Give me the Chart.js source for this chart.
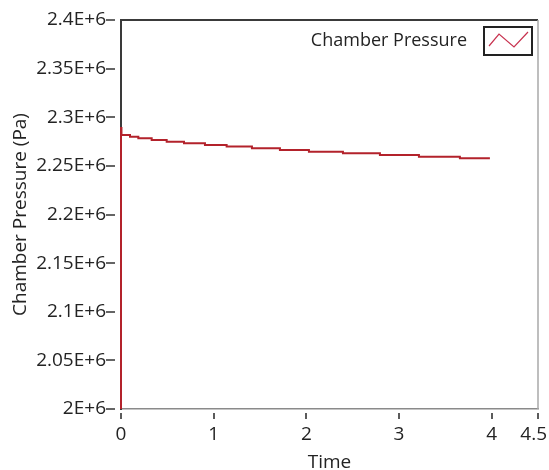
<!DOCTYPE html>
<html>
<head>
<meta charset="utf-8">
<script src="https://cdn.jsdelivr.net/npm/chart.js@4/dist/chart.umd.min.js"></script>
<style>
  html, body { margin: 0; padding: 0; background: #ffffff; }
  #wrap { width: 549px; height: 470px; }
</style>
</head>
<body>
<div id="wrap"><canvas id="c" width="549" height="470"></canvas></div>
<script>
// ---- data ----
const seriesLabel = 'Chamber Pressure';
const xTitle = 'Time';
const yTitle = 'Chamber Pressure (Pa)';

const timeValues = [0, 0, 0.005, 0.097, 0.187, 0.331, 0.493, 0.680, 0.906, 1.140, 1.413, 1.715, 2.028, 2.395, 2.794, 3.215, 3.657, 3.981];
const pressureValues = [2.0e6, 2.2890e6, 2.2817e6, 2.2800e6, 2.2784e6, 2.2766e6, 2.2749e6, 2.2732e6, 2.2715e6, 2.2700e6, 2.2681e6, 2.2663e6, 2.2646e6, 2.2629e6, 2.2612e6, 2.2594e6, 2.2578e6, 2.2578e6];

const xTickValues = [0, 1, 2, 3, 4, 4.5];
const xTickLabels = ['0', '1', '2', '3', '4', '4.5'];
const yTickValues = [2.0e6, 2.05e6, 2.1e6, 2.15e6, 2.2e6, 2.25e6, 2.3e6, 2.35e6, 2.4e6];
const yTickLabels = ['2E+6', '2.05E+6', '2.1E+6', '2.15E+6', '2.2E+6', '2.25E+6', '2.3E+6', '2.35E+6', '2.4E+6'];

// ---- styling ----
const FONT = '"Open Sans", "DejaVu Sans", sans-serif';
const TEXT = '#232323';
const LINE = '#b3222b';

Chart.defaults.font.family = FONT;
Chart.defaults.font.size = 19;
Chart.defaults.color = TEXT;

const points = timeValues.map((t, i) => ({ x: t, y: pressureValues[i] }));

// top / right frame of the plot area
const framePlugin = {
  id: 'frame',
  beforeDatasetsDraw(chart) {
    const { ctx, chartArea: a } = chart;
    ctx.save();
    ctx.strokeStyle = '#3a3a3a';
    ctx.lineWidth = 2;
    ctx.beginPath();
    ctx.moveTo(a.left - 1, a.top);
    ctx.lineTo(a.right, a.top);
    ctx.stroke();
    ctx.strokeStyle = '#a8a8a8';
    ctx.lineWidth = 1.5;
    ctx.beginPath();
    ctx.moveTo(a.right, a.top);
    ctx.lineTo(a.right, a.bottom);
    ctx.stroke();
    ctx.restore();
  }
};

// tick marks set slightly apart from the axes (positions from the library's scales)
const tickMarkPlugin = {
  id: 'tickMarks',
  afterDraw(chart) {
    const { ctx, chartArea: a, scales } = chart;
    ctx.save();
    ctx.strokeStyle = '#333333';
    ctx.lineWidth = 1.6;
    ctx.beginPath();
    scales.y.ticks.forEach(t => {
      const py = Math.round(scales.y.getPixelForValue(t.value));
      ctx.moveTo(a.left - 15, py);
      ctx.lineTo(a.left - 6, py);
    });
    scales.x.ticks.forEach(t => {
      const px = Math.round(scales.x.getPixelForValue(t.value));
      ctx.moveTo(px, a.bottom + 4);
      ctx.lineTo(px, a.bottom + 10);
    });
    ctx.stroke();
    ctx.restore();
  }
};

const legendPlugin = {
  id: 'boxLegend',
  afterDraw(chart) {
    const { ctx, chartArea: a } = chart;
    const ds = chart.data.datasets[0];
    const w = 48, h = 28;
    const bx = a.right - 6 - w, by = a.top + 7;
    ctx.save();
    ctx.fillStyle = '#ffffff';
    ctx.fillRect(bx, by, w, h);
    ctx.strokeStyle = '#222222';
    ctx.lineWidth = 2;
    ctx.strokeRect(bx, by, w, h);
    ctx.strokeStyle = '#c8324f';
    ctx.lineWidth = 1.2;
    ctx.beginPath();
    ctx.moveTo(bx + 5, by + 19);
    ctx.lineTo(bx + 15, by + 7);
    ctx.lineTo(bx + 30, by + 20);
    ctx.lineTo(bx + 44, by + 5);
    ctx.stroke();
    ctx.fillStyle = TEXT;
    ctx.font = '18px ' + FONT;
    ctx.textAlign = 'right';
    ctx.textBaseline = 'middle';
    ctx.fillText(ds.label, bx - 17, by + h / 2);
    ctx.restore();
  }
};

// keep the last x label ("4.5") inside the canvas: right-align it just past its tick
function patchLastLabel(s) {
  if (s._lastLabelPatched) return;
  s._lastLabelPatched = true;
  const proto = Object.getPrototypeOf(s);
  s._computeLabelItems = function (chartArea) {
    const items = proto._computeLabelItems.call(this, chartArea);
    const last = items[items.length - 1];
    if (last && last.options) {
      last.options.textAlign = 'right';
      last.options.translation = [last.options.translation[0] + 9, last.options.translation[1]];
    }
    return items;
  };
}

new Chart(document.getElementById('c'), {
  type: 'line',
  data: {
    datasets: [{
      label: seriesLabel,
      data: points,
      borderColor: LINE,
      backgroundColor: LINE,
      borderWidth: 2,
      pointRadius: 0,
      stepped: true,
      fill: false,
      clip: { left: 4, top: 0, right: 0, bottom: 0 }
    }]
  },
  options: {
    responsive: false,
    devicePixelRatio: 1,
    animation: false,
    layout: { padding: { top: 20, right: 11, left: 0, bottom: 0 } },
    plugins: {
      legend: { display: false },
      tooltip: { enabled: false }
    },
    scales: {
      x: {
        type: 'linear',
        min: 0,
        max: 4.5,
        afterBuildTicks: (s) => { patchLastLabel(s); s.ticks = xTickValues.map(v => ({ value: v })); },
        afterFit: (s) => { s.height = 61; s.paddingLeft = 0; s.paddingRight = 0; },
        ticks: {
          autoSkip: false,
          maxRotation: 0,
          padding: 4,
          color: TEXT,
          callback: (v) => { const i = xTickValues.indexOf(v); return i >= 0 ? xTickLabels[i] : ''; }
        },
        grid: { drawOnChartArea: false, drawTicks: true, tickLength: 10, tickColor: 'rgba(0,0,0,0)' },
        border: { display: true, color: '#8a8a8a', width: 1.5 },
        title: { display: true, text: xTitle, color: TEXT, font: { size: 19, lineHeight: 0.8 }, padding: { top: 0, bottom: 0 } }
      },
      y: {
        type: 'linear',
        min: 2.0e6,
        max: 2.4e6,
        afterBuildTicks: (s) => { s.ticks = yTickValues.map(v => ({ value: v })); },
        afterFit: (s) => { s.width = 121; s.paddingTop = 0; s.paddingBottom = 0; },
        ticks: {
          autoSkip: false,
          padding: 3,
          color: TEXT,
          callback: (v) => { const i = yTickValues.findIndex(t => Math.abs(t - v) < 1); return i >= 0 ? yTickLabels[i] : ''; }
        },
        grid: { drawOnChartArea: false, drawTicks: true, tickLength: 12, tickColor: 'rgba(0,0,0,0)' },
        border: { display: true, color: '#3a3a3a', width: 2 },
        title: { display: true, text: yTitle, color: TEXT, font: { size: 19 }, padding: { top: 9, bottom: 0 } }
      }
    }
  },
  plugins: [framePlugin, tickMarkPlugin, legendPlugin]
});
</script>
</body>
</html>
